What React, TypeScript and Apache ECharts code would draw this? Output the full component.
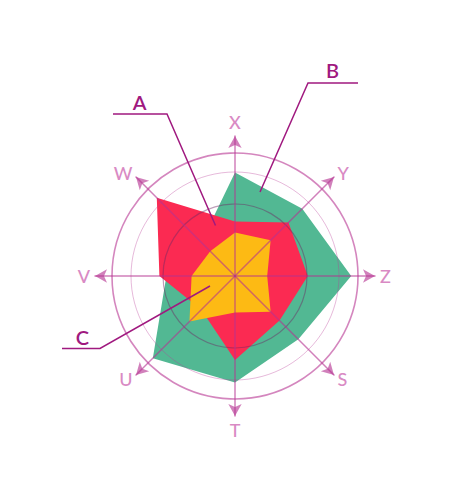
import React, { useEffect, useRef } from 'react';
import * as echarts from 'echarts';

// axes, counterclockwise from the top
const axes = ['X', 'W', 'V', 'U', 'T', 'S', 'Z', 'Y'];
const maxValue = 100;

const seriesB = [74, 34, 49, 83, 76, 64, 83, 68];
const seriesA = [39, 79, 54, 34, 60, 45, 52, 54];
const seriesC = [31, 25, 31, 46, 26, 36, 23, 36];

const seriesNames = ['B', 'A', 'C'];
const seriesColors = ['#52B893', '#FB2A52', '#FDBA14'];

// rings drawn over the areas (radius in px)
const rings = [
  { radius: 123, color: 'rgba(185, 60, 150, 0.62)', width: 1.6 },
  { radius: 104, color: 'rgba(185, 60, 150, 0.45)', width: 0.8 },
  { radius: 72, color: 'rgba(110, 40, 100, 0.45)', width: 1.2 },
];

const CENTER = [235, 276];
const PINK = '#D98AC4';
const PLUM = '#A0197F';
const AXIS_LINE = 'rgba(180, 50, 145, 0.62)';

const App: React.FC = () => {
  const chartRef = useRef<HTMLDivElement | null>(null);

  useEffect(() => {
    if (!chartRef.current) return;
    const chart = echarts.init(chartRef.current, null, { renderer: 'svg' });

    const indicator = axes.map(name => ({ name, max: maxValue }));

    const radar: any[] = [
      {
        center: CENTER,
        radius: 140,
        startAngle: 90,
        splitNumber: 1,
        shape: 'polygon',
        indicator,
        nameGap: 5,
        axisName: { color: PINK, fontSize: 18, fontFamily: 'Lato', fontWeight: 500 },
        axisLine: {
          show: true,
          symbol: ['none', 'arrow'],
          symbolSize: [10, 12],
          lineStyle: { color: AXIS_LINE, width: 1.5 },
        },
        axisTick: { show: false },
        axisLabel: { show: false },
        splitLine: { show: false },
        splitArea: { show: false },
        z: 3,
      },
      ...rings.map(r => ({
        center: CENTER,
        radius: r.radius,
        startAngle: 90,
        splitNumber: 1,
        shape: 'circle',
        indicator: axes.map(() => ({ name: '', max: maxValue })),
        axisName: { show: false },
        axisLine: { show: false },
        axisTick: { show: false },
        axisLabel: { show: false },
        splitLine: { show: true, lineStyle: { color: r.color, width: r.width } },
        splitArea: { show: false },
        z: 3,
      })),
    ];

    const values = [seriesB, seriesA, seriesC];

    const leader = (points: number[][], label: string, lx: number, ly: number) => [
      {
        type: 'polyline',
        shape: { points },
        style: { stroke: PLUM, lineWidth: 1.5, fill: null },
        z: 10,
      },
      {
        type: 'text',
        x: lx,
        y: ly,
        style: {
          text: label,
          fill: PLUM,
          font: '600 20px Lato',
          textAlign: 'center',
          textVerticalAlign: 'middle',
        },
        z: 10,
      },
    ];

    chart.setOption({
      animation: false,
      radar,
      series: values.map((v, i) => ({
        name: seriesNames[i],
        type: 'radar',
        radarIndex: 0,
        symbol: 'none',
        z: 2 + i * 0.1,
        lineStyle: { width: 0 },
        areaStyle: { color: seriesColors[i], opacity: 1 },
        data: [{ value: v, name: seriesNames[i] }],
      })),
      graphic: [
        ...leader([[113, 114], [167, 114], [215.5, 225.5]], 'A', 139.5, 102),
        ...leader([[358, 83], [308, 83], [260, 192]], 'B', 332.5, 70),
        ...leader([[62, 348.5], [100, 348.5], [210, 286]], 'C', 82.5, 337),
      ],
    });

    return () => chart.dispose();
  }, []);

  return (
    <div
      ref={chartRef}
      style={{ position: 'fixed', left: 0, top: 0, width: 452, height: 500, background: '#fff' }}
    />
  );
};

export default App;
